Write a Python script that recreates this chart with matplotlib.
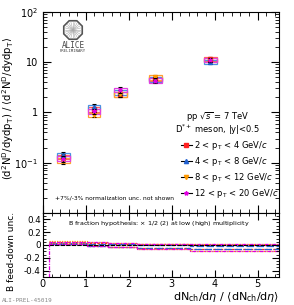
import numpy as np
import matplotlib
matplotlib.use('Agg')
import matplotlib.pyplot as plt
from matplotlib.patches import Rectangle, RegularPolygon
from matplotlib.lines import Line2D

# multiplicity (x) of each point
mult = [0.47, 1.19, 1.80, 2.62, 3.90]

# relative yields per pT bin
labels = [r'2 < p$_{\rm T}$ < 4 GeV/$c$', r'4 < p$_{\rm T}$ < 8 GeV/$c$',
          r'8 < p$_{\rm T}$ < 12 GeV/$c$', r'12 < p$_{\rm T}$ < 20 GeV/$c$']
yields = [
    [0.13, 1.15, 2.30, 4.70, 11.5],
    [0.14, 1.30, 2.50, 4.50, 10.2],
    [0.11, 0.90, 2.30, 5.00, 11.0],
    [0.12, 1.05, 2.80, 4.30, 11.0],
]
stat = [0.15, 0.12, 0.12, 0.10, 0.10]   # relative stat. error
syst = [0.11, 0.10, 0.11, 0.10, 0.10]   # relative syst. box half height

colors = ['#ff2020', '#2060d0', '#ff9900', '#e000e0']
boxcol = ['#ff6060', '#4a90e0', '#ffa030', '#e040e0']
markers = ['s', '^', 'v', '*']

# feed-down uncertainty bands (bottom panel)
fd_edges = [0.14, 1.03, 1.52, 2.20, 3.43, 5.5]
fd_up = [
    [0.05, 0.03, 0.02, 0.01, 0.00],
    [0.03, 0.02, 0.01, 0.00, -0.01],
    [0.06, 0.04, 0.03, 0.02, 0.01],
    [0.05, 0.04, 0.03, 0.02, 0.01],
]
fd_lo = [
    [0.02, -0.01, -0.03, -0.05, -0.07],
    [0.01, -0.02, -0.04, -0.05, -0.07],
    [0.03, 0.00, -0.03, -0.06, -0.09],
    [0.02, -0.01, -0.04, -0.06, -0.09],
]

fig = plt.figure(figsize=(2.94, 3.05), dpi=100)
ax1 = fig.add_axes([0.146, 0.302, 0.803, 0.659])
ax2 = fig.add_axes([0.146, 0.092, 0.803, 0.210])

# top panel
for i in range(4):
    for x, y, s in zip(mult, yields[i], syst):
        ax1.add_patch(Rectangle((x - 0.15, y * (1 - s)), 0.30, y * 2 * s,
                                fill=False, ec=boxcol[i], lw=0.9))
for i in range(4):
    y = np.array(yields[i])
    ax1.errorbar(mult, y, yerr=y * np.array(stat), fmt='none', ecolor='black',
                 elinewidth=0.8, capsize=1.2, capthick=0.8)
    ax1.plot(mult, y, ls='none', marker=markers[i], color=colors[i], ms=2.8,
             mec=colors[i])

ax1.set_yscale('log')
ax1.set_ylim(0.01, 100)
ax1.set_xlim(0, 5.5)
ax1.set_yticks([0.1, 1, 10, 100])
ax1.set_yticklabels([r'10$^{-1}$', '1', '10', r'10$^{2}$'])
ax1.tick_params(axis='both', which='both', direction='in', top=True, right=True,
                labelsize=7)
ax1.tick_params(which='major', length=6)
ax1.tick_params(which='minor', length=3)
ax1.set_xticks(np.arange(0, 5.6, 1))
ax1.set_xticks(np.arange(0, 5.5, 0.2), minor=True)
ax1.set_xticklabels([])
ax1.set_ylabel(r'(d$^2$N$^{\rm D}$/dydp$_{\rm T}$) / $\langle$d$^2$N$^{\rm D}$/dydp$_{\rm T}\rangle$',
               fontsize=7.3)
ax1.yaxis.set_label_coords(-0.112, 0.52)

ax1.text(0.74, 0.478, r'pp $\sqrt{s}$ = 7 TeV', transform=ax1.transAxes,
         ha='center', va='center', fontsize=6)
ax1.text(0.74, 0.413, r'D$^{*+}$ meson, |y|<0.5', transform=ax1.transAxes,
         ha='center', va='center', fontsize=6)
handles = [Line2D([], [], color='black', lw=0.8, marker=markers[i],
                  mfc=colors[i], mec=colors[i], ms=3) for i in range(4)]
ax1.legend(handles, labels, loc='upper left', bbox_to_anchor=(0.57, 0.385),
           frameon=False, fontsize=6, handlelength=1.3, handletextpad=0.3,
           labelspacing=0.35, borderaxespad=0)
ax1.text(0.05, 0.075, '+7%/-3% normalization unc. not shown', transform=ax1.transAxes,
         fontsize=4.3, va='center')

# ALICE logo
logo = fig.add_axes([62 / 294, 1 - 41 / 305, 22 / 294, 22 / 305])
logo.set_xlim(-1.1, 1.1)
logo.set_ylim(-1.1, 1.1)
logo.set_aspect('equal')
logo.axis('off')
logo.add_patch(RegularPolygon((0, 0), 8, radius=1.0, orientation=np.pi / 8,
                              fill=False, ec='#555555', lw=1.2))
for a in np.linspace(0, 2 * np.pi, 24, endpoint=False):
    logo.plot([0, 0.8 * np.cos(a)], [0, 0.8 * np.sin(a)], color='#aaaaaa', lw=0.4)
fig.text(73 / 294, 1 - 45 / 305, 'ALICE', ha='center', va='center',
         fontsize=5.5, family='DejaVu Sans Mono', color='#444444')
fig.text(73 / 294, 1 - 51.5 / 305, 'PRELIMINARY', ha='center', va='center',
         fontsize=2.8, family='DejaVu Sans Mono', color='#444444')

# bottom panel
ax2.plot([fd_edges[0], fd_edges[-1]], [0, 0], color='black', lw=0.8, ls='--', dashes=(4, 1))
styles = [(0, (2, 1)), (0, (6, 2)), (0, (1, 1)), (0, (3, 1, 1, 1))]
for i in range(4):
    for vals in (fd_up[i], fd_lo[i]):
        ax2.stairs(vals, fd_edges, baseline=None, color=colors[i], lw=0.9,
                   ls=styles[i])
ax2.plot([fd_edges[0], fd_edges[0]], [-0.5, fd_up[3][0]], color=colors[3], lw=0.9,
         ls=styles[3])
ax2.set_xlim(0, 5.5)
ax2.set_ylim(-0.5, 0.5)
ax2.set_yticks([-0.4, -0.2, 0, 0.2, 0.4])
ax2.set_yticklabels(['-0.4', '-0.2', '0', '0.2', '0.4'])
ax2.set_yticks(np.arange(-0.5, 0.51, 0.05), minor=True)
ax2.set_xticks(np.arange(0, 5.6, 1))
ax2.set_xticks(np.arange(0, 5.5, 0.2), minor=True)
ax2.tick_params(axis='both', which='both', direction='in', top=True, right=True,
                labelsize=7, pad=1.5)
ax2.tick_params(axis='y', labelsize=6.3)
ax2.tick_params(which='major', length=5)
ax2.tick_params(which='minor', length=2.5)
ax2.set_ylabel('B feed-down unc.', fontsize=6.5)
ax2.yaxis.set_label_coords(-0.115, 0.4)
ax2.text(0.106, 0.83, r'B fraction hypothesis: $\times$ 1/2 (2) at low (high) multiplicity',
         transform=ax2.transAxes, fontsize=4.6, va='center')
ax2.set_xlabel(r'dN$_{\rm ch}$/d$\eta$ / $\langle$dN$_{\rm ch}$/d$\eta\rangle$',
               fontsize=8, ha='right', va='top')
ax2.xaxis.set_label_coords(1.0, -0.2)

fig.text(0.007, 0.01, 'ALI-PREL-45019', fontsize=4.3, color='#888888',
         family='DejaVu Sans Mono')

fig.savefig('out.png', dpi=100)
